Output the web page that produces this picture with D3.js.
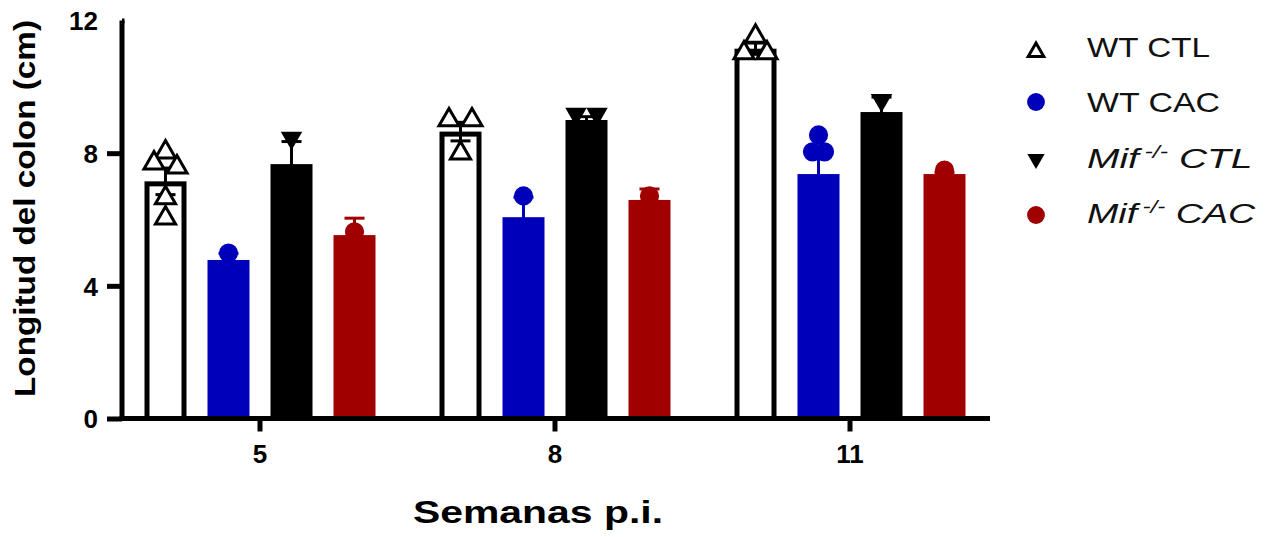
<!DOCTYPE html>
<html>
<head>
<meta charset="utf-8">
<script src="https://cdn.jsdelivr.net/npm/d3@7"></script>
<style>
  html, body { margin: 0; padding: 0; background: #fff; }
  svg { display: block; font-family: "Liberation Sans", Arial, Helvetica, sans-serif; }
</style>
</head>
<body>
<svg id="chart" width="1268" height="537"></svg>
<script>
// Colon length (cm) by week post-infection, four experimental groups
const weeks = ["5", "8", "11"];
const seriesNames = ["WT CTL", "WT CAC", "Mif CTL", "Mif CAC"];
const yTicks = [0, 4, 8, 12];

const meanWtCtl = [7.15, 8.65, 11.15];
const semWtCtl = [0.40, 0.28, 0.17];
const pointsWtCtl = [[8.03, 7.70, 7.58, 6.65, 6.04], [9.00, 9.00, 8.00], [11.52, 11.02, 11.02]];

const meanWtCac = [4.78, 6.07, 7.37];
const semWtCac = [0.20, 0.60, 0.48];
const pointsWtCac = [[4.99], [6.71], [8.55, 8.04, 8.04]];

const meanMifCtl = [7.67, 9.00, 9.24];
const semMifCtl = [0.68, 0.10, 0.45];
const pointsMifCtl = [[8.46], [9.18, 9.18], [9.60]];

const meanMifCac = [5.53, 6.59, 7.37];
const semMifCac = [0.51, 0.33, 0.05];
const pointsMifCac = [[5.63], [6.71], [7.49]];

const BLUE = "#0000BB", RED = "#A00000", BLACK = "#000";

const seriesData = [
  { name: "WT CTL", mean: meanWtCtl, sem: semWtCtl, pts: pointsWtCtl,
    barFill: "#fff", barStroke: BLACK, color: BLACK, symbol: d3.symbolTriangle, flip: false,
    markFill: "#fff", markStroke: BLACK, size: 175, legendSize: 105, spread: 23 },
  { name: "WT CAC", mean: meanWtCac, sem: semWtCac, pts: pointsWtCac,
    barFill: BLUE, barStroke: null, color: BLUE, symbol: d3.symbolCircle, flip: false,
    markFill: BLUE, markStroke: null, size: 290, legendSize: 250, spread: 12 },
  { name: "Mif CTL", mean: meanMifCtl, sem: semMifCtl, pts: pointsMifCtl,
    barFill: BLACK, barStroke: null, color: BLACK, symbol: d3.symbolTriangle, flip: true,
    markFill: BLACK, markStroke: null, size: 200, legendSize: 130, spread: 21 },
  { name: "Mif CAC", mean: meanMifCac, sem: semMifCac, pts: pointsMifCac,
    barFill: RED, barStroke: null, color: RED, symbol: d3.symbolCircle, flip: false,
    markFill: RED, markStroke: null, size: 290, legendSize: 250, spread: 12 }
];

const svg = d3.select("#chart");

const y = d3.scaleLinear().domain([0, 12]).range([418.5, 20.5]);
const x0 = d3.scaleBand().domain(weeks).range([112.5, 997.5]);
const x1 = d3.scaleBand().domain(seriesNames).range([-115.5, 115.5]).paddingInner(1 / 3);

const plot = svg.append("g");

// Bars
seriesData.forEach(s => {
  weeks.forEach((w, i) => {
    const left = x0(w) + x0.bandwidth() / 2 + x1(s.name);
    const bw = x1.bandwidth();
    if (s.barStroke) {
      const sw = 5;
      plot.append("rect")
        .attr("x", left + sw / 2).attr("y", y(s.mean[i]) + sw / 2)
        .attr("width", bw - sw).attr("height", y(0) - y(s.mean[i]) - sw / 2)
        .attr("fill", s.barFill).attr("stroke", s.barStroke).attr("stroke-width", sw);
    } else {
      plot.append("rect")
        .attr("x", left).attr("y", y(s.mean[i]))
        .attr("width", bw).attr("height", y(0) - y(s.mean[i]))
        .attr("fill", s.barFill);
    }
  });
});

// Error bars (mean ± SEM)
seriesData.forEach(s => {
  weeks.forEach((w, i) => {
    const cx = x0(w) + x0.bandwidth() / 2 + x1(s.name) + x1.bandwidth() / 2;
    const hi = y(s.mean[i] + s.sem[i]), lo = y(s.mean[i] - s.sem[i]);
    const g = plot.append("g").attr("stroke", s.color).attr("stroke-width", 3);
    g.append("line").attr("x1", cx).attr("x2", cx).attr("y1", hi).attr("y2", lo);
    g.append("line").attr("x1", cx - 10).attr("x2", cx + 10).attr("y1", hi).attr("y2", hi);
    g.append("line").attr("x1", cx - 10).attr("x2", cx + 10).attr("y1", lo).attr("y2", lo);
  });
});

// Individual points: values that nearly coincide are spread side by side
function spreadOffsets(vals, spacing) {
  const order = vals.map((v, i) => ({ v, i })).sort((a, b) => b.v - a.v);
  const offsets = new Array(vals.length).fill(0);
  let k = 0;
  while (k < order.length) {
    let j = k + 1;
    while (j < order.length && order[k].v - order[j].v < 0.3) j++;
    const n = j - k;
    for (let m = 0; m < n; m++) offsets[order[k + m].i] = (m - (n - 1) / 2) * spacing;
    k = j;
  }
  return offsets;
}

seriesData.forEach(s => {
  const sym = d3.symbol().type(s.symbol).size(s.size);
  weeks.forEach((w, i) => {
    const cx = x0(w) + x0.bandwidth() / 2 + x1(s.name) + x1.bandwidth() / 2;
    const offs = spreadOffsets(s.pts[i], s.spread);
    s.pts[i].forEach((v, k) => {
      plot.append("path")
        .attr("d", sym())
        .attr("transform", `translate(${cx + offs[k]},${y(v)})` + (s.flip ? " rotate(180)" : ""))
        .attr("fill", s.markFill)
        .attr("stroke", s.markStroke || "none")
        .attr("stroke-width", s.markStroke ? 3 : 0)
        .attr("stroke-linejoin", "miter");
    });
  });
});

// Y axis
const yAxis = svg.append("g")
  .attr("transform", "translate(122,0)")
  .call(d3.axisLeft(y).tickValues(yTicks).tickSize(15).tickSizeOuter(0).tickPadding(9).tickFormat(d3.format("d")));
yAxis.select(".domain").attr("stroke-width", 5).attr("d", `M0,${y(12)}V${y(0) + 2.5}`);
yAxis.selectAll(".tick line").attr("stroke-width", 5);
yAxis.selectAll(".tick text")
  .attr("font-size", 26).attr("font-weight", "bold").attr("fill", "#000")
  .attr("font-family", "'Liberation Sans', Arial, sans-serif").attr("dy", "0.36em");
// top tick reaches the corner of the axis line
yAxis.selectAll(".tick").filter(d => d === 12).select("line").attr("x2", 2.5);

// X axis
const xAxis = svg.append("g")
  .attr("transform", `translate(0,${y(0)})`)
  .call(d3.axisBottom(x0).tickSize(13).tickSizeOuter(0).tickPadding(13));
xAxis.select(".domain").remove();
xAxis.append("line").attr("x1", 119.5).attr("x2", 990).attr("y1", 0).attr("y2", 0)
  .attr("stroke", "#000").attr("stroke-width", 5);
xAxis.selectAll(".tick line").attr("stroke-width", 5);
xAxis.selectAll(".tick text")
  .attr("font-size", 26).attr("font-weight", "bold").attr("fill", "#000")
  .attr("font-family", "'Liberation Sans', Arial, sans-serif");

// Axis titles
svg.append("text")
  .attr("transform", `translate(35,${(20 + 397) / 2}) rotate(-90)`)
  .attr("text-anchor", "middle")
  .attr("font-size", 30).attr("font-weight", "bold")
  .attr("textLength", 377).attr("lengthAdjust", "spacingAndGlyphs")
  .text("Longitud del colon (cm)");

svg.append("text")
  .attr("x", 538).attr("y", 523)
  .attr("text-anchor", "middle")
  .attr("font-size", 32).attr("font-weight", "bold")
  .attr("textLength", 250).attr("lengthAdjust", "spacingAndGlyphs")
  .text("Semanas p.i.");

// Legend
const legendMarkerY = [52, 102, 159, 215];
const legendTextY = [57, 112, 168, 223];
const legendWidths = [123, 133, 160, 163];
const legend = svg.append("g");
seriesData.forEach((s, i) => {
  legend.append("path")
    .attr("d", d3.symbol().type(s.symbol).size(s.legendSize)())
    .attr("transform", `translate(1036,${legendMarkerY[i]})` + (s.flip ? " rotate(180)" : ""))
    .attr("fill", s.markFill)
    .attr("stroke", s.markStroke || "none")
    .attr("stroke-width", s.markStroke ? 3 : 0);

  const t = legend.append("text")
    .attr("x", 0).attr("y", 0)
    .attr("font-size", 28).attr("fill", "#111");
  if (s.name.startsWith("Mif")) {
    t.attr("font-style", "italic");
    t.append("tspan").text("Mif");
    t.append("tspan").attr("font-size", 18).attr("dx", 4).attr("dy", -10).text("-/-");
    t.append("tspan").attr("dy", 10).text(" " + s.name.slice(4));
  } else {
    t.text(s.name);
  }
  const w = t.node().getComputedTextLength();
  t.attr("transform", `translate(1087,${legendTextY[i]}) scale(${legendWidths[i] / w},1)`);
});
</script>
</body>
</html>
